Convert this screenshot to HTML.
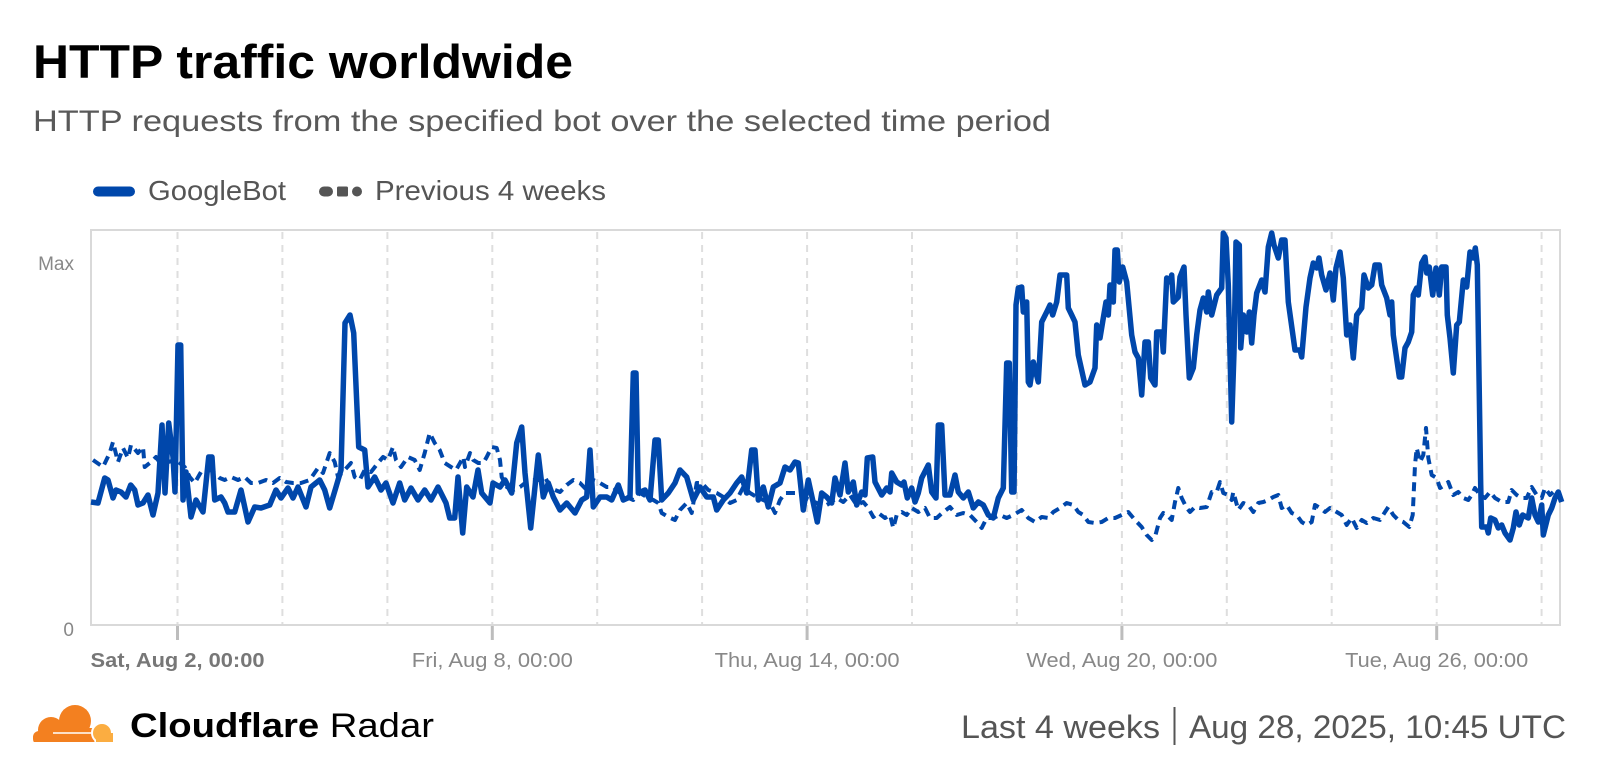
<!DOCTYPE html>
<html>
<head>
<meta charset="utf-8">
<style>
  html,body{margin:0;padding:0;background:#fff;}
  body{width:1600px;height:776px;overflow:hidden;}
  svg{display:block;}
  text{font-family:"Liberation Sans", Arial, sans-serif;}
</style>
</head>
<body>
<svg width="1600" height="776" viewBox="0 0 1600 776" xmlns="http://www.w3.org/2000/svg">
  <!-- Title -->
  <text x="33" y="78" font-size="47" font-weight="bold" fill="#000" textLength="540" lengthAdjust="spacingAndGlyphs">HTTP traffic worldwide</text>
  <text x="33" y="131" font-size="30" fill="#595959" textLength="1018" lengthAdjust="spacingAndGlyphs">HTTP requests from the specified bot over the selected time period</text>

  <!-- Legend -->
  <line x1="98" y1="191.5" x2="130" y2="191.5" stroke="#0047ab" stroke-width="10" stroke-linecap="round"/>
  <text x="148" y="200" font-size="28" fill="#555" textLength="138" lengthAdjust="spacingAndGlyphs">GoogleBot</text>
  <rect x="319" y="186.5" width="14" height="10" rx="5" fill="#555"/>
  <rect x="337" y="186.5" width="11" height="10" rx="1.5" fill="#555"/>
  <rect x="352" y="186.5" width="10" height="10" rx="5" fill="#555"/>
  <text x="375" y="200" font-size="28" fill="#555" textLength="231" lengthAdjust="spacingAndGlyphs">Previous 4 weeks</text>

  <!-- Grid lines -->
  <g stroke="#dedede" stroke-width="2" stroke-dasharray="7 6">
    <line x1="177.5" y1="232" x2="177.5" y2="624"/>
    <line x1="282.4" y1="232" x2="282.4" y2="624"/>
    <line x1="387.4" y1="232" x2="387.4" y2="624"/>
    <line x1="492.3" y1="232" x2="492.3" y2="624"/>
    <line x1="597.2" y1="232" x2="597.2" y2="624"/>
    <line x1="702.1" y1="232" x2="702.1" y2="624"/>
    <line x1="807.1" y1="232" x2="807.1" y2="624"/>
    <line x1="912" y1="232" x2="912" y2="624"/>
    <line x1="1016.9" y1="232" x2="1016.9" y2="624"/>
    <line x1="1121.9" y1="232" x2="1121.9" y2="624"/>
    <line x1="1226.8" y1="232" x2="1226.8" y2="624"/>
    <line x1="1331.7" y1="232" x2="1331.7" y2="624"/>
    <line x1="1436.7" y1="232" x2="1436.7" y2="624"/>
    <line x1="1541.6" y1="232" x2="1541.6" y2="624"/>
  </g>

  <!-- Box -->
  <rect x="91" y="230" width="1469" height="395" fill="none" stroke="#d9d9d9" stroke-width="2"/>

  <!-- Ticks -->
  <g stroke="#bdbdbd" stroke-width="3">
    <line x1="177.5" y1="626" x2="177.5" y2="640"/>
    <line x1="492.3" y1="626" x2="492.3" y2="640"/>
    <line x1="807.1" y1="626" x2="807.1" y2="640"/>
    <line x1="1121.9" y1="626" x2="1121.9" y2="640"/>
    <line x1="1436.7" y1="626" x2="1436.7" y2="640"/>
  </g>

  <!-- Y labels -->
  <text x="74" y="270" font-size="19" fill="#888" text-anchor="end">Max</text>
  <text x="74" y="636" font-size="19" fill="#888" text-anchor="end">0</text>

  <!-- X labels -->
  <text x="177.5" y="667" font-size="20" font-weight="bold" fill="#777" text-anchor="middle" textLength="174" lengthAdjust="spacingAndGlyphs">Sat, Aug 2, 00:00</text>
  <text x="492.3" y="667" font-size="20" fill="#888" text-anchor="middle" textLength="161" lengthAdjust="spacingAndGlyphs">Fri, Aug 8, 00:00</text>
  <text x="807.1" y="667" font-size="20" fill="#888" text-anchor="middle" textLength="185" lengthAdjust="spacingAndGlyphs">Thu, Aug 14, 00:00</text>
  <text x="1121.9" y="667" font-size="20" fill="#888" text-anchor="middle" textLength="191" lengthAdjust="spacingAndGlyphs">Wed, Aug 20, 00:00</text>
  <text x="1436.7" y="667" font-size="20" fill="#888" text-anchor="middle" textLength="183" lengthAdjust="spacingAndGlyphs">Tue, Aug 26, 00:00</text>

  <!-- Previous 4 weeks (dashed) -->
  <polyline fill="none" stroke="#0047ab" stroke-width="4" stroke-dasharray="9 6" stroke-linejoin="round" points="93,460 103,467 109.7,453 113,442 118,462 123,448 128,458 131,445 138,453 143,447 144.7,467 151,462 156,457 160,463 168,462 176,460 184.7,467 189.7,477 194.7,483 201,472 211,470 219.7,478 224.7,480 231,477 238,480 244.7,477 251,483 258,483 266,480 273,483 279.7,478 286,482 293,483 301,483 309.7,480 318,468 323,473 329.7,453 334.7,462 338,477 344.7,470 351,463 354.7,477 359.7,480 364.7,470 371,472 378,463 383,457 388,460 393,447 396,460 401,467 408,457 414.7,460 419.7,470 424.7,453 429.7,433 434.7,443 439.7,450 444.7,463 451,467 456,470 460,463 463.3,457 465,467 470,453 473.3,460 478.3,463 483.3,463 486.7,457 491.7,447 496.7,448 500,460 501.7,477 506.7,487 513.3,490 520,487 525,483 531.7,480 540,480 545,477 550,487 555,490 560,492 566.7,485 573.3,480 580,483 586.7,490 593.3,480 600,483 606.7,487 613.3,487 620,493 626.7,497 633.3,500 640,493 646.7,497 653.3,500 658.3,503 661.7,513 668.3,517 675,520 680,510 686.7,503 691.7,513 696.7,483 701.7,483 708.3,490 716.7,493 723.3,497 730,503 736.7,500 743.3,487 750,493 756.7,497 763.3,500 770,503 775,513 780,500 785,493 790,493 796.7,493 803.3,497 810,500 816.7,503 823.3,507 830,503 836.7,498 843.3,502 850,495 856.7,505 863.3,502 868.3,508 873.3,517 878.3,513 885,518 890,515 893.3,528 896.7,515 901.7,512 906.7,515 911.7,508 918.3,512 925,508 930,518 936.7,518 943.3,512 950,507 956.7,515 963.3,513 970,515 976.7,522 981.7,528 986.7,518 993.3,518 1000,515 1006.7,518 1013.3,515 1021.7,510 1028.3,518 1035,522 1041.7,517 1048.3,518 1053.3,512 1060,508 1066.7,503 1073.3,505 1078.3,512 1083.3,515 1088.3,522 1095,523 1101.7,522 1108.3,518 1115,518 1121.7,515 1128.3,512 1135,520 1141.7,527 1146.7,535 1151.7,540 1155,537 1160,518 1163.3,513 1166.7,515 1171.7,520 1175,502 1178.3,488 1181.7,498 1186.7,508 1190,512 1195,507 1200,508 1206.7,507 1211.7,492 1216.7,492 1220,482 1223.3,493 1228.3,495 1231.7,500 1233.3,492 1238.3,510 1243.3,503 1248.3,505 1253.3,512 1258.3,503 1263.3,502 1268.3,500 1273.3,497 1278.3,495 1281.7,508 1286.7,505 1291.7,513 1296.7,515 1301.7,522 1306.7,525 1311.7,522 1315,505 1320,508 1325,512 1330,508 1336.7,512 1341.7,515 1346.7,525 1351.7,518 1356.7,528 1361.7,520 1366.7,523 1373.3,518 1380,520 1385,512 1388.3,507 1393.3,515 1398.3,520 1403.3,522 1409.3,527 1412.7,515 1415,465 1416.7,448 1420,462 1423.3,455 1426,428 1428.3,458 1431.7,475 1436.7,478 1440,488 1445,485 1448.3,482 1453.3,495 1458.3,492 1463.3,498 1468.3,500 1471.7,495 1475,488 1480,495 1485,498 1490,492 1495,498 1501.7,502 1508.3,502 1511.7,490 1516.7,495 1521.7,498 1526.7,498 1531.7,487 1536.7,495 1541.7,498 1545,488 1550,495 1553.3,492 1558.3,492 1561.7,505"/>

  <!-- GoogleBot (solid) -->
  <polyline fill="none" stroke="#0047ab" stroke-width="5.5" stroke-linejoin="round" points="91,502 98,503 104.7,478 108,480 113,498 116,490 121,492 126,497 130.7,485 134.7,490 138,505 143,503 148,495 153,515 158,493 162,425 165,493 168.7,423 173,457 175,492 178,345 180.7,345 183,500 186,472 191,517 196,500 203,512 208.7,457 212,457 214.7,500 221,497 224.7,503 228,512 234.7,512 241,490 248,522 254.7,507 261,508 269.7,505 276,490 281,498 288,488 293,498 298,487 306,507 311,487 319.7,480 324.7,490 329.7,508 336,487 341,470 345,323 350,315 353.7,333 358.7,447 364.7,450 368,487 374.7,477 381,490 386,483 393,503 399.7,483 404.7,500 411,488 418,500 424.7,490 431,500 438,487 446,503 449.7,518 454.7,518 458,477 462.7,533 466.7,487 473,497 478,470 481.7,493 490,503 493,483 500,487 505,480 511.7,493 516.7,443 521.7,427 525,473 530.7,528 538.3,455 543.3,497 548.3,483 553.3,497 560,510 566.7,503 575,513 581.7,500 586.7,497 590,450 593.3,507 600,497 606.7,497 611.7,500 618.3,485 623.3,500 630,497 633.3,373 636,373 638.3,493 645,490 650,500 655,440 658.3,440 661.7,500 668.3,493 675,483 680,470 686.7,477 693.3,500 700,487 706.7,497 713.3,497 716.7,510 723.3,500 730,493 736.7,483 741.7,477 746.7,493 751.7,450 755,450 758.3,500 763.3,487 768.3,507 773.3,487 780,483 785,467 790,470 795,462 798.3,463 803.3,510 808.3,480 813.3,503 817.3,522 821.7,493 826.7,497 831.7,503 835,478 840,495 845,463 848.3,492 853.3,482 856.7,505 861.7,492 865,495 867.3,458 872.7,457 875,482 881.7,495 886.7,488 890,492 891.7,473 896.7,482 901.7,485 904,482 907.3,498 911.7,488 915,502 918.3,493 921.7,478 928.3,465 931.7,492 936,498 938.3,425 941.7,425 945,495 950,495 955,475 958.3,492 963.3,498 968.3,492 973.3,508 978.3,502 983.3,505 988.3,515 993.3,518 998.3,498 1003.3,488 1006.7,363 1009.3,363 1011.7,492 1014,492 1016,305 1018.3,288 1021.7,287 1023.3,312 1026.7,302 1028.3,382 1030,385 1033.3,362 1038.3,382 1041.7,322 1046.7,312 1050,305 1052.7,315 1056.7,302 1060,275 1066.7,275 1068.3,308 1071.7,315 1075,322 1078.3,355 1085,385 1090,382 1095,368 1096.7,325 1100,338 1103.3,318 1106,302 1108.3,315 1110,285 1113.3,302 1115,250 1117.3,250 1119.3,282 1122.7,267 1126.7,282 1131.7,335 1135,352 1138.3,358 1141.7,395 1145,342 1148.3,342 1150.7,378 1155,385 1156.7,332 1161.7,332 1163.3,352 1166.7,278 1170,282 1171.7,275 1173.3,302 1178.3,297 1180,277 1184,267 1186,315 1189.3,378 1193.3,368 1196.7,335 1200,310 1203.3,298 1206.7,312 1208.3,292 1211.7,315 1216.7,295 1221.7,288 1223.3,233 1226,238 1228.3,285 1231.7,422 1234,352 1236,242 1239.3,245 1240.7,348 1243.3,315 1246.7,332 1249.3,312 1251.7,343 1254,315 1256.7,293 1261.7,280 1265,292 1268.3,247 1271.7,233 1274,245 1278.3,258 1281.7,240 1285,240 1288.3,302 1295,350 1300,350 1301.7,357 1306,307 1310,278 1313.3,263 1316.7,268 1319,258 1321.7,275 1326,290 1330,273 1333.3,300 1336,268 1340,252 1343.3,278 1346.7,335 1350,325 1353.3,358 1356.7,315 1361.7,308 1364,275 1368.3,288 1371.7,285 1375,265 1379.3,265 1381.7,285 1386.7,298 1390,315 1391.7,302 1393.3,335 1399.3,377 1401.7,377 1405,348 1408.3,342 1411.7,332 1413.3,295 1416.7,288 1418.3,295 1421.7,263 1425,257 1426.7,273 1429.3,267 1432.7,295 1436,268 1439.3,295 1441.7,267 1446,267 1447.3,315 1450,338 1453.3,373 1456.7,325 1459.3,322 1463.3,280 1466.7,287 1470,252 1473.3,258 1475.3,248 1477.3,265 1480.7,485 1481.7,527 1486.7,527 1488.3,533 1490.7,518 1495,520 1498.3,528 1501.7,525 1505,533 1510,540 1513.3,528 1516,512 1519.3,525 1522.7,515 1528.3,518 1531.7,498 1535,515 1538.3,522 1541.7,505 1543.3,535 1548.3,515 1551.7,508 1555,498 1558.3,492 1561.7,502"/>

  <!-- Cloudflare logo -->
  <defs>
    <clipPath id="cloudclip"><rect x="20" y="690" width="110" height="52"/></clipPath>
  </defs>
  <g clip-path="url(#cloudclip)">
    <circle cx="75" cy="721" r="16" fill="#f38020"/>
    <circle cx="51" cy="730" r="13" fill="#f38020"/>
    <rect x="33" y="731" width="62" height="14" rx="6" fill="#f38020"/>
    <rect x="45" y="728" width="48" height="14" fill="#f38020"/>
    <circle cx="102" cy="733" r="10" fill="#fbad41" stroke="#fff" stroke-width="2"/>
    <rect x="96" y="733" width="17" height="12" fill="#fbad41"/>
    <line x1="53" y1="733" x2="91" y2="733" stroke="#fff" stroke-width="1.6"/>
  </g>
  <text x="130" y="737" font-size="34" fill="#000" textLength="304" lengthAdjust="spacingAndGlyphs"><tspan font-weight="bold">Cloudflare</tspan> Radar</text>

  <!-- Right footer -->
  <text x="961" y="738" font-size="32" fill="#555" textLength="199" lengthAdjust="spacingAndGlyphs">Last 4 weeks</text>
  <line x1="1174.5" y1="707" x2="1174.5" y2="745" stroke="#555" stroke-width="2"/>
  <text x="1189" y="738" font-size="32" fill="#555" textLength="377" lengthAdjust="spacingAndGlyphs">Aug 28, 2025, 10:45 UTC</text>
</svg>
</body>
</html>
